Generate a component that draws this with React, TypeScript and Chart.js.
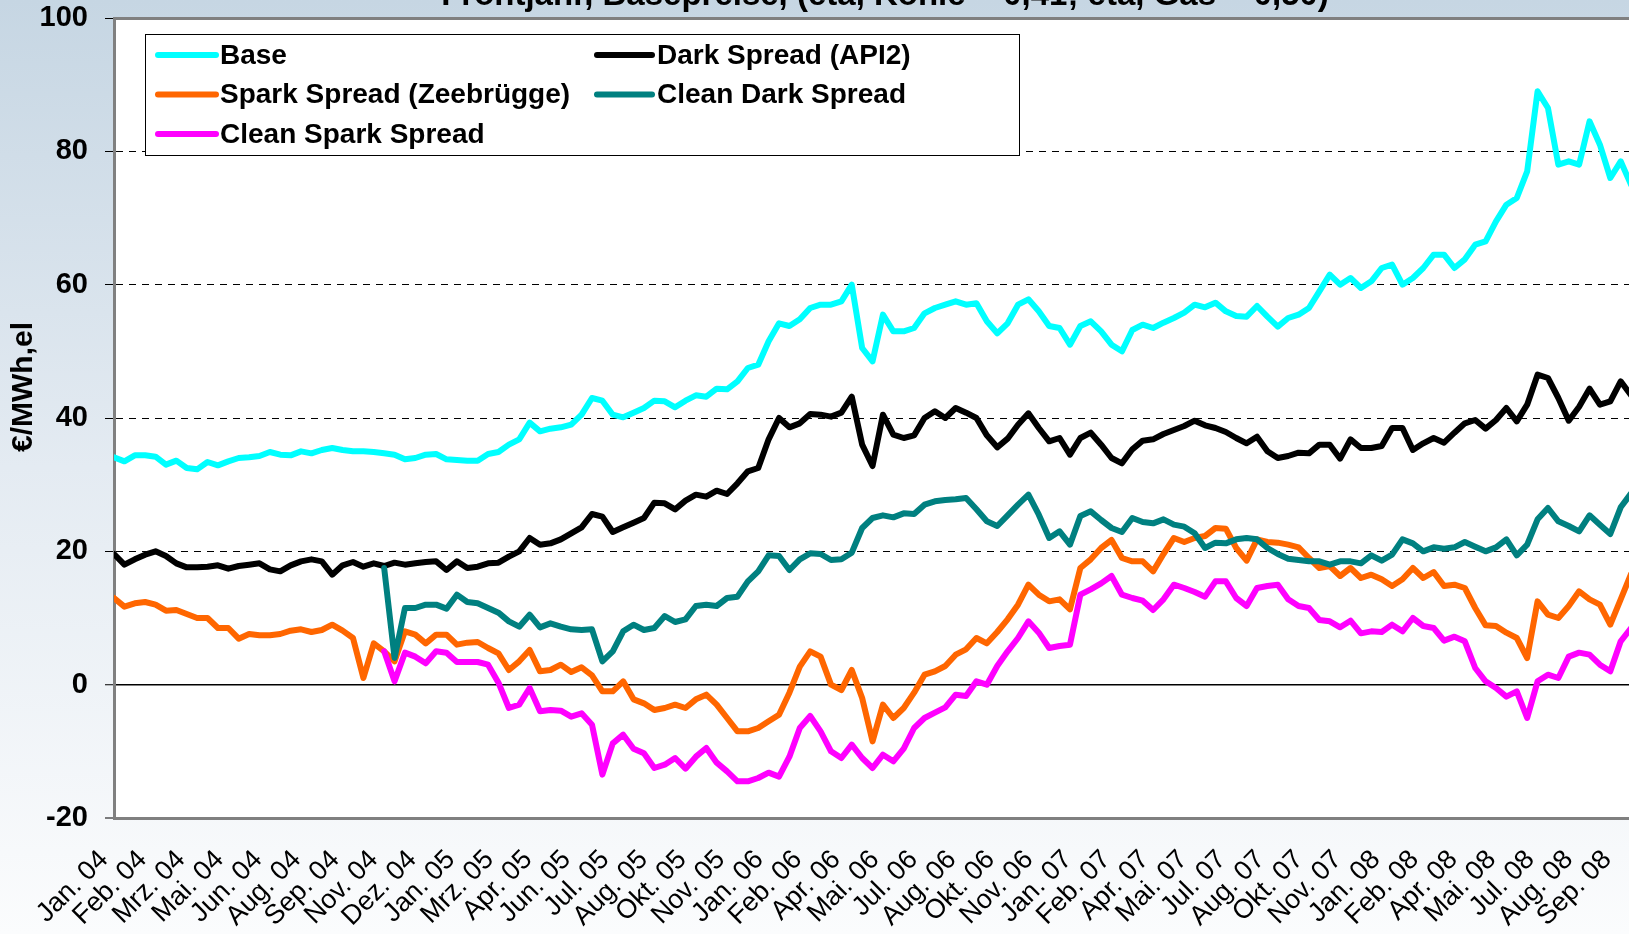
import React, { useEffect, useRef } from "react";
import { Chart, registerables } from "chart.js";

Chart.register(...registerables);

const FONT = '"Liberation Sans", Arial, Helvetica, sans-serif';

const TITLE = "Frontjahr, Basepreise, (eta, Kohle = 0,41; eta, Gas = 0,50)";
const Y_TITLE = "€/MWh,el";

const X_LABELS = [
  "Jan. 04", "Feb. 04", "Mrz. 04", "Mai. 04", "Jun. 04", "Aug. 04", "Sep. 04", "Nov. 04", "Dez. 04",
  "Jan. 05", "Mrz. 05", "Apr. 05", "Jun. 05", "Jul. 05", "Aug. 05", "Okt. 05", "Nov. 05",
  "Jan. 06", "Feb. 06", "Apr. 06", "Mai. 06", "Jul. 06", "Aug. 06", "Okt. 06", "Nov. 06",
  "Jan. 07", "Feb. 07", "Apr. 07", "Mai. 07", "Jul. 07", "Aug. 07", "Okt. 07", "Nov. 07",
  "Jan. 08", "Feb. 08", "Apr. 08", "Mai. 08", "Jul. 08", "Aug. 08", "Sep. 08",
];
// spacing of the category labels, in sample steps
const LABEL_STEP = 3.71;
const LABEL_POS = X_LABELS.map((_, k) => k * LABEL_STEP);

const Y_TICKS = [-20, 0, 20, 40, 60, 80, 100];

const BASE = [
  34.1, 33.5, 34.4, 34.4, 34.2, 33.0, 33.6, 32.5, 32.3, 33.4,
  32.9, 33.5, 34.0, 34.1, 34.3, 34.9, 34.5, 34.4, 35.0, 34.7,
  35.2, 35.5, 35.2, 35.0, 35.0, 34.9, 34.7, 34.5, 33.8, 34.0,
  34.5, 34.6, 33.8, 33.7, 33.6, 33.6, 34.6, 34.9, 36.0, 36.8,
  39.3, 38.0, 38.4, 38.6, 39.0, 40.5, 43.0, 42.6, 40.5, 40.1,
  40.8, 41.5, 42.6, 42.5, 41.6, 42.6, 43.4, 43.2, 44.4, 44.3,
  45.5, 47.5, 48.0, 51.5, 54.2, 53.8, 54.8, 56.5, 57.0, 57.0,
  57.5, 60.0, 50.5, 48.5, 55.5, 53.0, 53.0, 53.5, 55.7, 56.5,
  57.0, 57.5, 57.0, 57.2, 54.5, 52.7, 54.2, 57.0, 57.8, 56.0,
  53.8, 53.5, 51.0, 53.8, 54.5, 53.0, 51.0, 50.0, 53.2, 54.0,
  53.5, 54.3, 55.0, 55.8, 57.0, 56.6, 57.3, 56.0, 55.3, 55.2,
  56.8, 55.2, 53.7, 55.0, 55.5, 56.5, 59.0, 61.5, 60.0, 61.0,
  59.5, 60.5, 62.5, 63.0, 60.0, 61.0, 62.5, 64.5, 64.5, 62.5,
  63.8, 66.0, 66.5, 69.5, 72.0, 73.0, 77.0, 89.0, 86.5, 78.0,
  78.5, 78.0, 84.5, 81.0, 76.0, 78.5, 75.0,
];

const DARK = [
  19.6, 18.0, 18.8, 19.5, 20.0, 19.3, 18.2, 17.6, 17.6, 17.7,
  17.9, 17.4, 17.8, 18.0, 18.2, 17.3, 17.0, 17.9, 18.5, 18.8,
  18.5, 16.5, 17.9, 18.4, 17.7, 18.2, 17.8, 18.3, 18.0, 18.2,
  18.4, 18.5, 17.2, 18.5, 17.5, 17.7, 18.2, 18.3, 19.2, 20.0,
  22.0, 21.0, 21.2, 21.8, 22.7, 23.6, 25.6, 25.2, 22.9, 23.6,
  24.3, 25.0, 27.3, 27.2, 26.3, 27.6, 28.5, 28.2, 29.1, 28.6,
  30.2, 32.0, 32.5, 36.8, 40.0, 38.6, 39.2, 40.6, 40.5, 40.2,
  40.8, 43.2, 36.0, 32.8, 40.5, 37.5, 37.0, 37.4, 40.0, 41.0,
  40.0, 41.5, 40.8, 40.0, 37.4, 35.6, 36.9, 39.0, 40.7, 38.5,
  36.5, 37.0, 34.5, 37.0, 37.8, 36.0, 34.0, 33.2, 35.3, 36.6,
  36.8, 37.6, 38.2, 38.8, 39.6, 38.9, 38.5, 37.9, 37.0, 36.2,
  37.2, 35.0, 34.0, 34.3, 34.8, 34.7, 36.0, 36.0, 33.9, 36.8,
  35.5, 35.5, 35.8, 38.5, 38.5, 35.2, 36.2, 37.0, 36.3, 37.8,
  39.2, 39.7, 38.4, 39.7, 41.5, 39.5, 42.0, 46.5, 46.0, 43.0,
  39.6, 41.7, 44.4, 42.0, 42.5, 45.5, 43.4,
];

const SPARK = [
  13.0, 11.7, 12.2, 12.4, 12.0, 11.1, 11.2, 10.6, 10.0, 10.0,
  8.5, 8.5, 6.9, 7.6, 7.4, 7.4, 7.6, 8.1, 8.3, 7.9,
  8.2, 9.0, 8.1, 7.0, 1.0, 6.2, 5.0, 3.5, 8.0, 7.5,
  6.2, 7.5, 7.5, 6.0, 6.3, 6.4, 5.5, 4.7, 2.2, 3.5,
  5.2, 2.0, 2.2, 3.0, 1.9, 2.6, 1.4, -1.0, -1.0, 0.5,
  -2.2, -2.8, -3.8, -3.5, -3.0, -3.5, -2.2, -1.5, -3.0, -5.0,
  -7.0, -7.0, -6.5, -5.5, -4.5, -1.2, 2.7, 5.0, 4.2, 0.0,
  -0.8, 2.2, -2.0, -8.5, -3.0, -5.0, -3.5, -1.2, 1.5, 2.0,
  2.8, 4.5, 5.3, 7.0, 6.2, 7.9, 9.8, 12.0, 15.0, 13.5,
  12.5, 12.8, 11.3, 17.5, 18.8, 20.5, 21.7, 19.0, 18.5, 18.5,
  17.0, 19.6, 22.0, 21.4, 22.0, 22.3, 23.5, 23.4, 20.5, 18.6,
  21.8, 21.4, 21.3, 21.0, 20.6, 19.0, 17.5, 17.8, 16.3, 17.5,
  16.0, 16.5, 15.8, 14.8, 15.8, 17.5, 16.0, 16.9, 14.8, 15.0,
  14.5, 11.5, 8.9, 8.8, 7.8, 7.0, 4.0, 12.5, 10.5, 10.0,
  11.8, 14.0, 12.8, 12.0, 9.0, 12.8, 16.6,
];

const CLEAN_DARK = [
  null, null, null, null, null, null, null, null, null, null,
  null, null, null, null, null, null, null, null, null, null,
  null, null, null, null, null, null, 17.5, 4.0, 11.5, 11.5,
  12.0, 12.0, 11.4, 13.5, 12.4, 12.2, 11.5, 10.8, 9.5, 8.7,
  10.5, 8.6, 9.2, 8.7, 8.3, 8.2, 8.3, 3.5, 5.0, 8.0,
  9.0, 8.2, 8.5, 10.3, 9.4, 9.8, 11.8, 12.0, 11.8, 13.0,
  13.2, 15.5, 17.0, 19.4, 19.3, 17.2, 18.8, 19.7, 19.6, 18.7,
  18.8, 19.8, 23.5, 25.0, 25.4, 25.1, 25.7, 25.6, 27.0, 27.5,
  27.7, 27.8, 28.0, 26.3, 24.5, 23.8, 25.4, 27.0, 28.5, 25.5,
  22.0, 23.0, 21.0, 25.3, 26.0, 24.7, 23.5, 22.9, 25.0, 24.4,
  24.2, 24.8, 24.0, 23.7, 22.7, 20.5, 21.3, 21.2, 21.8, 22.0,
  21.8, 20.5, 19.6, 18.9, 18.7, 18.5, 18.5, 18.0, 18.5, 18.5,
  18.2, 19.4, 18.6, 19.5, 21.8, 21.2, 20.0, 20.6, 20.4, 20.6,
  21.4, 20.7, 20.0, 20.6, 21.8, 19.4, 21.0, 24.8, 26.5, 24.5,
  23.8, 23.0, 25.4, 24.0, 22.6, 26.6, 28.7,
];

const CLEAN_SPARK = [
  null, null, null, null, null, null, null, null, null, null,
  null, null, null, null, null, null, null, null, null, null,
  null, null, null, null, null, null, 5.0, 0.5, 4.8, 4.2,
  3.2, 5.0, 4.8, 3.4, 3.4, 3.4, 3.0, 0.3, -3.5, -3.0,
  -0.5, -4.0, -3.8, -3.9, -4.8, -4.3, -6.0, -13.5, -8.8, -7.5,
  -9.6, -10.3, -12.5, -12.0, -11.0, -12.6, -10.8, -9.5, -11.7, -13.0,
  -14.5, -14.5, -14.0, -13.2, -13.8, -10.8, -6.5, -4.7, -7.0, -10.0,
  -11.0, -9.0, -11.0, -12.5, -10.5, -11.5, -9.6, -6.5, -5.0, -4.2,
  -3.4, -1.5, -1.7, 0.5, 0.0, 2.8, 5.0, 7.0, 9.5, 7.8,
  5.5, 5.8, 6.0, 13.5, 14.3, 15.2, 16.3, 13.5, 13.0, 12.6,
  11.2, 12.8, 15.0, 14.5, 13.9, 13.2, 15.5, 15.5, 13.0, 11.8,
  14.5, 14.8, 15.0, 12.8, 11.8, 11.5, 9.7, 9.5, 8.6, 9.6,
  7.7, 8.0, 7.9, 9.0, 8.0, 10.0, 8.8, 8.5, 6.6, 7.2,
  6.5, 2.5, 0.5, -0.5, -1.8, -1.0, -5.0, 0.5, 1.5, 1.0,
  4.2, 4.8, 4.5, 3.0, 2.0, 6.5, 8.5,
];

const SAMPLE_IDX = BASE.map((_, i) => i);

const SERIES = [
  { label: "Base", data: BASE, color: "#00FFFF" },
  { label: "Dark Spread (API2)", data: DARK, color: "#000000" },
  { label: "Spark Spread (Zeebrügge)", data: SPARK, color: "#FF6600" },
  { label: "Clean Dark Spread", data: CLEAN_DARK, color: "#008080" },
  { label: "Clean Spark Spread", data: CLEAN_SPARK, color: "#FF00FF" },
];

// legend grid slot (column, row) for each series
const LEGEND_SLOTS = [
  [0, 0],
  [1, 0],
  [0, 1],
  [1, 1],
  [0, 2],
];

const decorPlugin = {
  id: "decor",
  beforeDraw(chart: any) {
    const { ctx, chartArea: a } = chart;
    ctx.save();
    ctx.fillStyle = "#ffffff";
    ctx.fillRect(a.left, a.top, a.right - a.left, a.bottom - a.top);
    ctx.restore();
  },
  afterDraw(chart: any) {
    const { ctx } = chart;
    ctx.save();
    ctx.fillStyle = "#000";
    ctx.font = `bold 33px ${FONT}`;
    ctx.textAlign = "center";
    ctx.textBaseline = "alphabetic";
    ctx.fillText(TITLE, 885, 5);
    ctx.restore();

    ctx.save();
    ctx.translate(24, 387);
    ctx.rotate(-Math.PI / 2);
    ctx.fillStyle = "#000";
    ctx.font = `bold 30px ${FONT}`;
    ctx.textAlign = "center";
    ctx.textBaseline = "middle";
    ctx.fillText(Y_TITLE, 0, 0);
    ctx.restore();

    // legend
    ctx.save();
    ctx.fillStyle = "#ffffff";
    ctx.fillRect(145.5, 34.5, 874, 121);
    ctx.strokeStyle = "#000";
    ctx.lineWidth = 1;
    ctx.strokeRect(145.5, 34.5, 874, 121);
    const lineX = [[158, 216], [597, 652]];
    const textX = [220, 657];
    const rowY = [55, 94.5, 134];
    ctx.font = `bold 28px ${FONT}`;
    ctx.textAlign = "left";
    ctx.textBaseline = "middle";
    SERIES.forEach((s, i) => {
      const [c, r] = LEGEND_SLOTS[i];
      const y = rowY[r];
      ctx.strokeStyle = s.color;
      ctx.lineWidth = 6;
      ctx.lineCap = "round";
      ctx.beginPath();
      ctx.moveTo(lineX[c][0], y);
      ctx.lineTo(lineX[c][1], y);
      ctx.stroke();
      ctx.fillStyle = "#000";
      ctx.fillText(s.label, textX[c], y + 1);
    });
    ctx.restore();
  },
};

export default function App() {
  const ref = useRef<HTMLCanvasElement | null>(null);

  useEffect(() => {
    if (!ref.current) return;
    const chart = new Chart(ref.current, {
      type: "line",
      data: {
        labels: SAMPLE_IDX,
        datasets: SERIES.map((s, i) => ({
          label: s.label,
          data: s.data,
          borderColor: s.color,
          backgroundColor: s.color,
          borderWidth: 6,
          pointRadius: 0,
          tension: 0,
          fill: false,
          spanGaps: false,
          order: SERIES.length - i,
          borderCapStyle: "round",
          borderJoinStyle: "round",
        })),
      },
      options: {
        animation: false,
        responsive: false,
        devicePixelRatio: 1,
        layout: { padding: { top: 18, left: 0, right: 0, bottom: 0 } },
        plugins: {
          legend: { display: false },
          tooltip: { enabled: false },
          title: { display: false },
        },
        scales: {
          x: {
            type: "linear",
            min: 0,
            max: 145.8,
            afterBuildTicks: (s: any) => {
              s.ticks = LABEL_POS.map((v) => ({ value: v }));
            },
            afterFit: (s: any) => {
              s.height = 116;
              s.paddingLeft = 0;
              s.paddingRight = 0;
              s.paddingTop = 0;
              s.paddingBottom = 0;
            },
            grid: { display: false, drawTicks: false },
            border: { display: true, color: "#808080", width: 3 },
            ticks: {
              autoSkip: false,
              maxRotation: 45,
              minRotation: 45,
              padding: 26,
              labelOffset: -10,
              color: "#000",
              font: { family: FONT, size: 27 },
              callback: (_v: any, i: number) => X_LABELS[i],
            },
          },
          y: {
            min: -20,
            max: 100,
            afterBuildTicks: (s: any) => {
              s.ticks = Y_TICKS.map((v) => ({ value: v }));
            },
            afterFit: (s: any) => {
              s.width = 114;
              s.paddingLeft = 0;
              s.paddingRight = 0;
              s.paddingTop = 0;
              s.paddingBottom = 0;
            },
            grid: {
              color: (c: any) => (c.tick && c.tick.value === 100 ? "#808080" : "#000000"),
              lineWidth: (c: any) => {
                const v = c.tick ? c.tick.value : null;
                if (v === 100) return 3;
                if (v === -20) return 0;
                if (v === 0) return 1.5;
                return 1;
              },
              drawTicks: true,
              tickLength: 9,
              tickColor: "#000",
              tickWidth: 1,
              tickBorderDash: [],
            },
            border: {
              display: true,
              color: "#808080",
              width: 3,
              dash: (c: any) =>
                c.tick && c.tick.value !== 0 && c.tick.value !== 100 ? [7, 6] : [],
            },
            ticks: {
              padding: 17,
              color: "#000",
              font: { family: FONT, size: 29, weight: "bold" },
            },
          },
        },
      },
      plugins: [decorPlugin],
    } as any);
    return () => chart.destroy();
  }, []);

  return (
    <div
      style={{
        position: "fixed",
        left: 0,
        top: 0,
        width: 1629,
        height: 934,
        overflow: "hidden",
        background: "linear-gradient(180deg, #c6d6e3 0%, #e4ebf2 50%, #fbfcfd 100%)",
      }}
    >
      <canvas ref={ref} width={1629} height={934} style={{ width: 1629, height: 934, display: "block" }} />
    </div>
  );
}
